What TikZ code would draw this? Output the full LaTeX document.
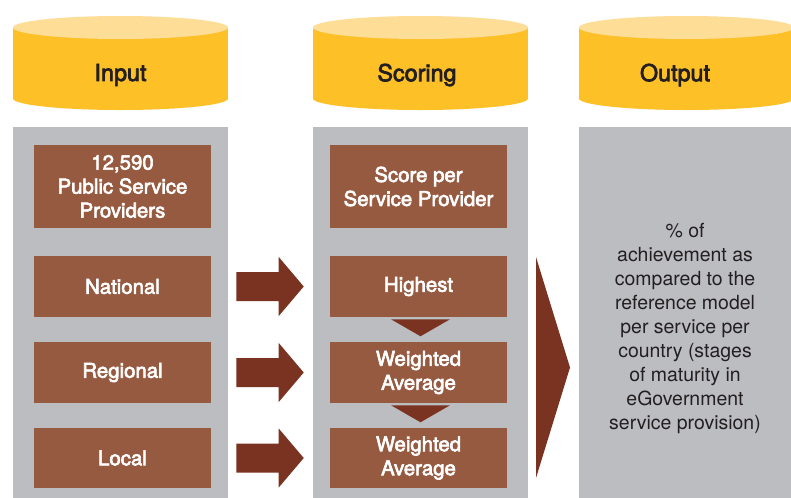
\documentclass[tikz,border=0pt]{standalone}
\usepackage{fontspec}
\setmainfont{TeX Gyre Heros}
\newfontfamily\medfont[FakeBold=3]{TeX Gyre Heros}
\usetikzlibrary{calc}
\definecolor{cylbody}{RGB}{253,192,39}
\definecolor{cyltop}{RGB}{254,221,150}
\definecolor{colgrey}{RGB}{188,189,192}
\definecolor{boxbrown}{RGB}{150,90,65}
\definecolor{arrbrown}{RGB}{122,51,33}
\definecolor{txtdark}{RGB}{35,31,32}
\tikzset{
  column/.style={fill=colgrey, draw=none, minimum width=215*0.75pt, minimum height=380*0.75pt, anchor=north west, inner sep=0},
  brownbox/.style={fill=boxbrown, draw=none, text=white, minimum width=177*0.75pt, inner sep=0, align=center,
    font=\medfont\fontsize{15.3}{18}\selectfont},
  title/.style={text=txtdark, font=\medfont\fontsize{17.5}{18}\selectfont, inner sep=0},
  outtext/.style={text=txtdark, align=center, font=\fontsize{14.6}{18}\selectfont, inner sep=0},
  blockarrow/.style={fill=arrbrown, draw=none},
}
\newcommand\cylinderat[1]{%
  \fill[cylbody] (#1,27.5) rectangle (#1+215,98.5);
  \fill[cylbody] (#1+107.5,98.5) ellipse [x radius=107.5, y radius=11.5];
  \fill[cyltop] (#1+107.5,27.5) ellipse [x radius=107.5, y radius=11.5];
}
\newcommand\rightblock[2]{%
  \fill[blockarrow] ($(#1.east)+(25,-14.5)$) -- ($(#2.west)+(-51,-14.5)$) -- ($(#2.west)+(-51,-29.5)$)
    -- ($(#2.west)+(-26,0)$) -- ($(#2.west)+(-51,29.5)$) -- ($(#2.west)+(-51,14.5)$)
    -- ($(#1.east)+(25,14.5)$) -- cycle;
}
\newcommand\downblock[1]{%
  \fill[blockarrow] ($(#1.south)+(-27.5,2)$) -- ($(#1.south)+(31.5,2)$) -- ($(#1.south)+(2,19)$) -- cycle;
}
\begin{document}
\begin{tikzpicture}[x=0.75pt,y=-0.75pt]
\clip (0,0) rectangle (791,497);
\fill[white] (0,0) rectangle (791,497);
% cylinders
\cylinderat{13}
\cylinderat{313}
\cylinderat{579}
\node[title] (tin) at (120.5,75) {Input};
\node[title] (tsc) at (417,75) {Scoring};
\node[title] (tout) at (675,75) {Output};
% columns
\node[column] (colin) at (13,127) {};
\node[column] (colsc) at (313,127) {};
\node[column] (colout) at (579,127) {};
% input boxes
\node[brownbox, minimum height=83*0.75pt] (psp) at (122.5,186.5) {12,590\\Public Service\\Providers};
\node[brownbox, minimum height=61*0.75pt] (nat) at (122.5,286.5) {National};
\node[brownbox, minimum height=61*0.75pt] (reg) at (122.5,372.5) {Regional};
\node[brownbox, minimum height=60*0.75pt] (loc) at (122.5,458) {Local};
% scoring boxes
\node[brownbox, minimum height=83*0.75pt] (sps) at (418.5,186.5) {Score per\\Service Provider};
\node[brownbox, minimum height=61*0.75pt] (high) at (418.5,286.5) {Highest};
\node[brownbox, minimum height=61*0.75pt] (wa1) at (418.5,372.5) {Weighted\\Average};
\node[brownbox, minimum height=60*0.75pt] (wa2) at (418.5,458) {Weighted\\Average};
% arrows
\rightblock{nat}{high}
\rightblock{reg}{wa1}
\rightblock{loc}{wa2}
\downblock{high}
\downblock{wa1}
% big chevron
\coordinate (bt) at (536,257);
\coordinate (bb) at (536,478);
\coordinate (btip) at (570,367.5);
\fill[blockarrow] (bt) -- (btip) -- (bb) -- cycle;
% output text
\node[outtext] (res) at (685,328) {\% of\\achievement as\\compared to the\\reference model\\per service per\\country (stages\\of maturity in\\eGovernment\\service provision)};
\end{tikzpicture}
\end{document}
